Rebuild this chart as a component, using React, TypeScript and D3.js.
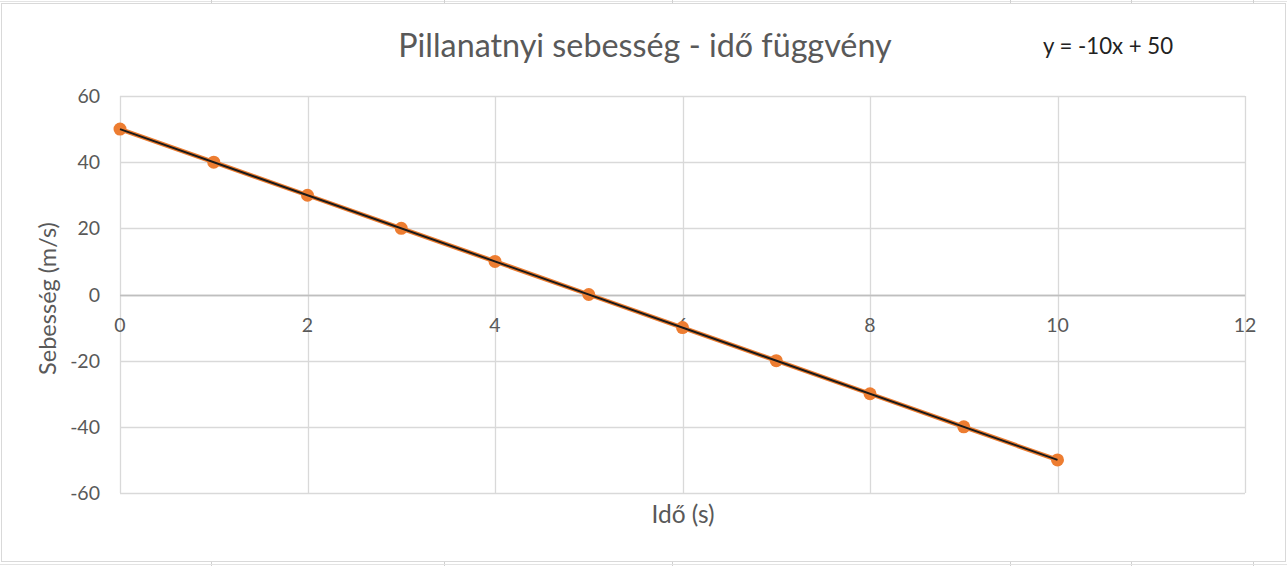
import React from "react";
import * as d3 from "d3";

const timeValues = [0, 1, 2, 3, 4, 5, 6, 7, 8, 9, 10];
const speedValues = [50, 40, 30, 20, 10, 0, -10, -20, -30, -40, -50];
const xTicks = [0, 2, 4, 6, 8, 10, 12];
const yTicks = [60, 40, 20, 0, -20, -40, -60];
const trendSlope = -10;
const trendIntercept = 50;
const titleText = "Pillanatnyi sebesség - idő függvény";
const equationText = "y = -10x + 50";
const xTitle = "Idő (s)";
const yTitle = "Sebesség (m/s)";
const sheetColsTop = [211, 444, 672, 1010, 1131, 1253];

const W = 1287;
const H = 566;
const FONT = "Lato, 'Open Sans', sans-serif";
const TXT = "#595959";

export default function App() {
  const x = d3.scaleLinear().domain([0, 12]).range([120, 1245]);
  const y = d3.scaleLinear().domain([-60, 60]).range([493, 96]);
  const pts = timeValues.map((t, i) => [t, speedValues[i]] as [number, number]);
  const line = d3
    .line<[number, number]>()
    .x((d) => x(d[0]))
    .y((d) => y(d[1]));
  const t0 = timeValues[0];
  const t1 = timeValues[timeValues.length - 1];
  const trend: [number, number][] = [
    [t0, trendSlope * t0 + trendIntercept],
    [t1, trendSlope * t1 + trendIntercept],
  ];

  return (
    <svg
      width={W}
      height={H}
      style={{ position: "fixed", left: 0, top: 0, background: "#fff" }}
      fontFamily={FONT}
    >
      <rect x={0} y={0} width={W} height={H} fill="#fff" />
      {/* spreadsheet cell lines */}
      <line x1={0} x2={W} y1={1.5} y2={1.5} stroke="#e3e3e3" />
      {sheetColsTop.map((c) => (
        <g key={c}>
          <line x1={c + 0.5} x2={c + 0.5} y1={0} y2={3} stroke="#d0d0d0" />
          <line x1={c + 0.5} x2={c + 0.5} y1={562} y2={H} stroke="#d0d0d0" />
        </g>
      ))}
      <line x1={0} x2={W} y1={564.5} y2={564.5} stroke="#e3e3e3" />
      {/* chart border */}
      <rect x={1.5} y={3.5} width={1284} height={558} fill="#fff" stroke="#d9d9d9" />

      {/* gridlines */}
      {yTicks.map((v) => (
        <line
          key={"gy" + v}
          x1={x(0)}
          x2={x(12)}
          y1={Math.round(y(v)) + 0.5}
          y2={Math.round(y(v)) + 0.5}
          stroke={v === 0 ? "#bfbfbf" : "#d9d9d9"}
          strokeWidth={1.3}
        />
      ))}
      {xTicks.map((v) => (
        <line
          key={"gx" + v}
          x1={Math.round(x(v)) + 0.5}
          x2={Math.round(x(v)) + 0.5}
          y1={y(60)}
          y2={y(-60)}
          stroke="#d9d9d9"
          strokeWidth={1.3}
        />
      ))}
      <line x1={x(0)} x2={x(12)} y1={Math.round(y(0)) + 0.5} y2={Math.round(y(0)) + 0.5} stroke="#bfbfbf" strokeWidth={1.3} />

      {/* y labels */}
      {yTicks.map((v) => (
        <text
          key={"ly" + v}
          x={100}
          y={y(v)}
          dy="0.36em"
          textAnchor="end"
          fontSize={19.5}
          fill={TXT}
        >
          {v}
        </text>
      ))}
      {/* x labels */}
      {xTicks.map((v) => (
        <text
          key={"lx" + v}
          x={x(v)}
          y={332}
          textAnchor="middle"
          fontSize={19.5}
          fill={TXT}
        >
          {v}
        </text>
      ))}

      {/* series */}
      <path d={line(pts) || ""} fill="none" stroke="#ed7d31" strokeWidth={4.5} />
      {pts.map((p, i) => (
        <circle key={i} cx={x(p[0])} cy={y(p[1])} r={6.5} fill="#ed7d31" />
      ))}
      <path d={line(trend) || ""} fill="none" stroke="#1a1a1a" strokeWidth={2} />

      {/* titles */}
      <text x={645} y={57} textAnchor="middle" fontSize={32.3} fill={TXT}>
        {titleText}
      </text>
      <text x={1108} y={54} textAnchor="middle" fontSize={22.2} fill="#222">
        {equationText}
      </text>
      <text x={683} y={523} textAnchor="middle" fontSize={24.5} fill={TXT}>
        {xTitle}
      </text>
      <text
        transform={`translate(56, ${y(0) + 4}) rotate(-90)`}
        textAnchor="middle"
        fontSize={23.5}
        fill={TXT}
      >
        {yTitle}
      </text>
    </svg>
  );
}
